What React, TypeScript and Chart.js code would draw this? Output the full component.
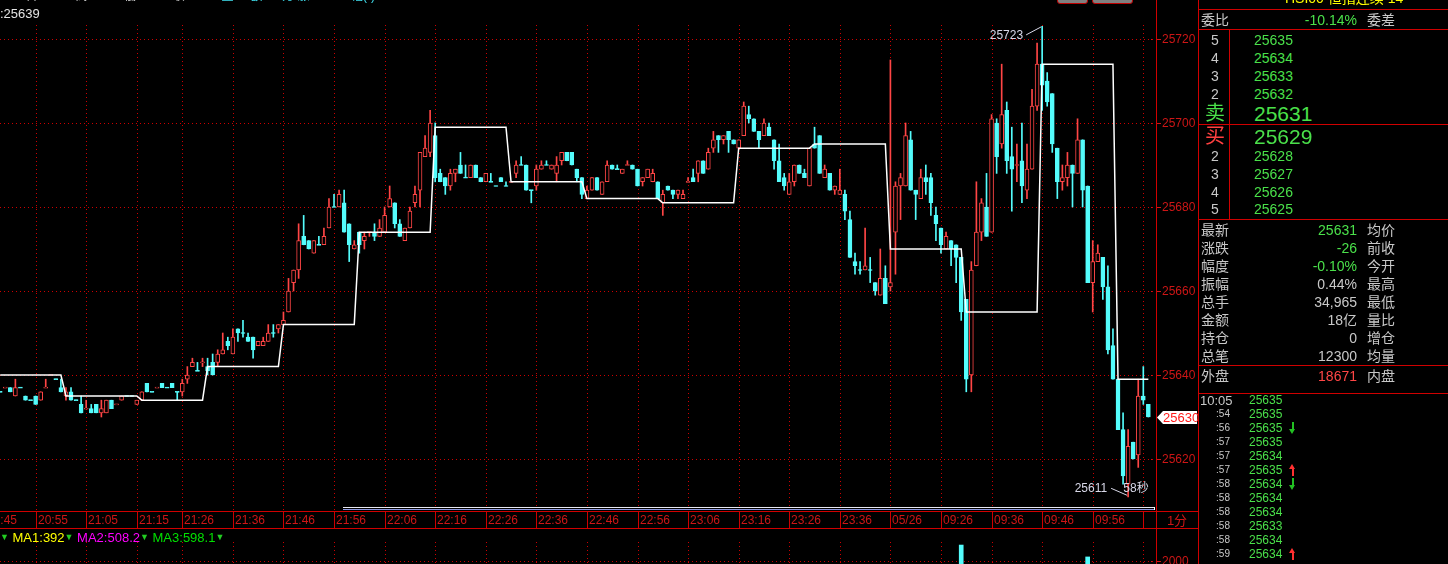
import React, { useEffect, useRef } from 'react';
import { Chart, registerables } from 'chart.js';
Chart.register(...registerables);

// ---------- data ----------
const opens = [25636,25637,25637,25635,25637,25635,25634,25635,25634,25637,
25640,25639,25637,25635,25636,25634,25633,25632,25632,25633,
25631,25631,25634,25633,25634,25635,25635,25633,25634,25638,
25636,25637,25638,25637,25638,25636,25636,25639,25642,25641,
25643,25642,25643,25643,25645,25648,25645,25651,25650,25649,
25649,25647,25647,25648,25650,25651,25652,25655,25662,25665,
25673,25672,25669,25671,25671,25675,25680,25680,25681,25676,
25670,25674,25672,25674,25674,25673,25674,25680,25681,25676,
25672,25675,25681,25684,25692,25693,25697,25688,25687,25685,
25688,25690,25687,25687,25690,25687,25686,25686,25685,25687,
25685,25686,25688,25690,25690,25684,25685,25689,25690,25689,
25688,25691,25693,25693,25689,25687,25682,25684,25687,25683,
25686,25690,25689,25688,25690,25690,25689,25686,25687,25686,
25686,25681,25685,25684,25683,25682,25686,25687,25688,25691,
25689,25694,25697,25696,25698,25696,25694,25697,25702,25701,
25698,25697,25699,25696,25691,25687,25683,25686,25690,25688,
25685,25695,25697,25687,25688,25684,25683,25683,25677,25667,
25665,25665,25665,25662,25659,25663,25661,25674,25685,25685,
25696,25684,25682,25687,25687,25678,25675,25670,25672,25671,
25668,25658,25640,25666,25674,25680,25674,25700,25695,25703,
25692,25690,25691,25684,25689,25704,25714,25710,25707,25694,
25686,25687,25690,25688,25696,25685,25662,25667,25668,25661,
25647,25639,25627,25614,25624,25621,25635,25633];

const highs = [25636,25637,25637,25639,25637,25635,25634,25635,25636,25639,
25640,25639,25639,25637,25637,25634,25635,25634,25633,25633,
25634,25634,25634,25633,25635,25635,25635,25634,25636,25638,
25636,25637,25638,25637,25638,25636,25639,25642,25644,25643,
25644,25644,25645,25646,25650,25649,25651,25651,25653,25650,
25649,25648,25649,25652,25652,25652,25655,25663,25665,25676,
25678,25672,25672,25673,25675,25682,25683,25684,25684,25676,
25672,25674,25674,25674,25676,25677,25680,25685,25681,25677,
25675,25680,25685,25693,25697,25703,25700,25689,25687,25689,
25689,25693,25690,25690,25690,25687,25688,25688,25685,25687,
25686,25686,25691,25692,25690,25684,25690,25691,25691,25690,
25692,25693,25693,25693,25689,25687,25685,25687,25687,25686,
25691,25690,25690,25689,25691,25690,25689,25687,25689,25689,
25686,25684,25685,25684,25684,25684,25687,25689,25691,25691,
25694,25698,25697,25697,25698,25696,25696,25705,25704,25701,
25698,25701,25700,25696,25695,25688,25688,25690,25690,25689,
25694,25699,25697,25690,25688,25685,25689,25684,25679,25669,
25667,25675,25668,25662,25670,25666,25715,25686,25688,25700,
25698,25684,25689,25690,25688,25680,25675,25674,25672,25671,
25668,25658,25667,25686,25682,25688,25702,25701,25714,25705,
25699,25695,25700,25695,25708,25719,25723,25712,25707,25694,
25690,25693,25690,25701,25696,25685,25672,25671,25668,25666,
25651,25639,25631,25627,25624,25639,25642,25633];

const lows = [25636,25637,25636,25635,25637,25634,25634,25633,25634,25637,
25640,25639,25636,25634,25634,25634,25631,25632,25631,25631,
25630,25631,25632,25633,25634,25635,25635,25633,25634,25636,
25636,25637,25637,25637,25637,25634,25635,25638,25642,25641,
25642,25640,25640,25642,25645,25646,25645,25648,25649,25648,
25644,25647,25647,25648,25649,25650,25652,25655,25660,25663,
25671,25670,25669,25671,25671,25675,25680,25680,25674,25667,
25670,25669,25670,25673,25672,25673,25674,25680,25675,25673,
25672,25675,25680,25680,25692,25692,25686,25686,25683,25684,
25686,25688,25687,25687,25687,25686,25686,25686,25685,25686,
25685,25686,25687,25690,25684,25681,25684,25689,25690,25689,
25686,25690,25691,25690,25686,25682,25682,25684,25684,25683,
25686,25689,25689,25688,25690,25689,25685,25685,25687,25686,
25682,25678,25684,25682,25682,25682,25686,25686,25686,25688,
25689,25693,25693,25695,25693,25695,25694,25697,25700,25698,
25694,25697,25697,25689,25686,25684,25683,25685,25688,25687,
25685,25694,25688,25687,25684,25683,25683,25677,25668,25664,
25664,25665,25662,25659,25659,25657,25660,25664,25677,25685,
25684,25677,25682,25683,25678,25672,25669,25670,25666,25662,
25653,25636,25636,25666,25672,25673,25674,25688,25694,25688,
25679,25686,25681,25682,25689,25703,25703,25704,25693,25682,
25684,25685,25680,25688,25680,25662,25655,25667,25658,25645,
25639,25627,25614,25611,25620,25618,25633,25630];

const closes = [25636,25637,25636,25637,25637,25634,25634,25633,25636,25637,
25640,25639,25636,25636,25634,25634,25631,25632,25631,25631,
25632,25634,25632,25633,25635,25635,25635,25634,25636,25636,
25636,25637,25637,25637,25637,25636,25638,25640,25643,25641,
25643,25641,25640,25645,25646,25647,25649,25650,25650,25648,
25646,25648,25648,25650,25650,25652,25653,25660,25665,25672,
25671,25670,25672,25671,25673,25680,25680,25683,25674,25671,
25671,25671,25673,25674,25673,25675,25678,25682,25676,25673,
25675,25679,25683,25693,25694,25700,25687,25686,25685,25688,
25689,25688,25687,25690,25687,25686,25688,25686,25685,25686,
25685,25686,25690,25690,25684,25684,25689,25690,25690,25690,
25690,25693,25691,25690,25687,25683,25684,25687,25684,25686,
25690,25689,25689,25689,25690,25689,25685,25687,25689,25688,
25682,25683,25684,25683,25684,25683,25686,25686,25691,25688,
25693,25696,25696,25697,25696,25695,25696,25704,25701,25698,
25696,25700,25697,25691,25686,25685,25686,25690,25688,25687,
25694,25694,25688,25689,25684,25685,25684,25679,25668,25666,
25665,25666,25665,25660,25663,25657,25662,25685,25687,25697,
25684,25683,25687,25686,25681,25676,25671,25673,25670,25668,
25655,25639,25665,25674,25681,25673,25701,25692,25702,25691,
25689,25690,25685,25689,25704,25714,25709,25705,25695,25686,
25687,25690,25688,25696,25684,25662,25667,25669,25661,25646,
25639,25627,25616,25623,25620,25635,25634,25630];

// white step line: start index of each level and its value
const stepStarts = [0, 13, 28, 41, 56, 71, 86, 101, 116, 131, 146, 161, 176, 191, 206, 221];
const stepValues = [25640, 25635, 25634, 25642, 25652, 25674, 25699, 25686, 25682, 25681, 25694, 25695, 25670, 25655, 25714, 25639];

const priceTicks = [25620, 25640, 25660, 25680, 25700, 25720];
const timeIdx = [-3, 7, 17, 27, 36, 46, 56, 66, 76, 86, 96, 106, 116, 126, 136, 146, 156, 166, 176, 186, 196, 206, 216, 226];
const timeLabels = ['20:45', '20:55', '21:05', '21:15', '21:26', '21:36', '21:46', '21:56', '22:06', '22:16', '22:26', '22:36', '22:46', '22:56', '23:06', '23:16', '23:26', '23:36', '05/26', '09:26', '09:36', '09:46', '09:56', ''];

const volIdx = [190, 215];
const volValues = [3100, 2280];
const volTick = 2000;

const askLevels = ['5', '4', '3', '2'];
const askPrices = ['25635', '25634', '25633', '25632'];
const bestAsk = '25631';
const bestBid = '25629';
const bidLevels = ['2', '3', '4', '5'];
const bidPrices = ['25628', '25627', '25626', '25625'];

const statLabels = ['最新', '涨跌', '幅度', '振幅', '总手', '金额', '持仓', '总笔'];
const statValues = ['25631', '-26', '-0.10%', '0.44%', '34,965', '18亿', '0', '12300'];
const statRight = ['均价', '前收', '今开', '最高', '最低', '量比', '增仓', '均量'];
const statGreen = [true, true, true, false, false, false, false, false];

const tickTimes = ['10:05', ':54', ':56', ':57', ':57', ':57', ':58', ':58', ':58', ':58', ':58', ':59'];
const tickPrices = ['25635', '25635', '25635', '25635', '25634', '25635', '25634', '25634', '25634', '25633', '25634', '25634'];
const tickArrows = ['', '', 'down', '', '', 'up', 'down', '', '', '', '', 'up'];

// ---------- style ----------
const W = 1448;
const FONT = '"Liberation Sans", "Noto Sans CJK SC", sans-serif';
const UP = '#ff4545';
const DOWN = '#54fcfc';
const GRID = 'rgb(205,0,0)';
const AX_RED = 'rgb(205,22,22)';
const LINE_RED = '#d00000';
const GREEN = '#4ae04a';
const GRAY = '#c8c8c8';
const X_MIN = -0.04, X_MAX = 228.51;
const Y_MIN = 25607.62, Y_MAX = 25723.33;
const V_MIN = 1793, V_MAX = 4276;

function candleColors(): string[] {
  return closes.map((c, i) => {
    const o = opens[i];
    if (c > o) return UP;
    if (c < o) return DOWN;
    const prev = i > 0 ? closes[i - 1] : c;
    return c > prev ? UP : DOWN;
  });
}

function T(props: { x: number; y: number; t: string; c: string; s?: number; a?: 'left' | 'right' | 'center' }) {
  const s = props.s ?? 14;
  const a = props.a ?? 'left';
  const st: React.CSSProperties = {
    position: 'absolute', top: props.y - s / 2, height: s, lineHeight: s + 'px',
    fontSize: s, color: props.c, whiteSpace: 'nowrap',
  };
  if (a === 'left') st.left = props.x;
  else if (a === 'right') st.right = W - props.x;
  else { st.left = props.x; st.transform = 'translateX(-50%)'; }
  return <div style={st}>{props.t}</div>;
}

function Line(props: { x: number; y: number; w: number; h: number; c?: string }) {
  return <div style={{ position: 'absolute', left: props.x, top: props.y, width: props.w, height: props.h, background: props.c ?? LINE_RED }} />;
}

function Arrow(props: { x: number; y: number; up: boolean }) {
  const c = props.up ? '#ff3030' : '#22c022';
  const head: React.CSSProperties = props.up
    ? { position: 'absolute', left: -3, top: 0, width: 0, height: 0, borderLeft: '3.5px solid transparent', borderRight: '3.5px solid transparent', borderBottom: '5px solid ' + c }
    : { position: 'absolute', left: -3, bottom: 0, width: 0, height: 0, borderLeft: '3.5px solid transparent', borderRight: '3.5px solid transparent', borderTop: '5px solid ' + c };
  return (
    <div style={{ position: 'absolute', left: props.x, top: props.y - 6, width: 1, height: 12 }}>
      <div style={{ position: 'absolute', left: 0, top: props.up ? 3 : 0, width: 1.5, height: 9, background: c }} />
      <div style={head} />
    </div>
  );
}

export default function App() {
  const mainRef = useRef<HTMLCanvasElement>(null);
  const volRef = useRef<HTMLCanvasElement>(null);

  useEffect(() => {
    const colors = candleColors();
    const bodies = opens.map((o, i) => {
      let lo = Math.min(o, closes[i]);
      let hi = Math.max(o, closes[i]);
      if (hi - lo < 0.24) { lo = closes[i] - 0.12; hi = closes[i] + 0.12; }
      return { x: i, y: [lo, hi] };
    });
    const wicks = highs.map((h, i) => ({ x: i, y: [lows[i], h] }));
    const stepLine = closes.map((_, i) => {
      let k = 0;
      for (let j = 0; j < stepStarts.length; j++) if (stepStarts[j] <= i) k = j;
      return { x: i, y: stepValues[k] };
    });

    const mainPlugin = {
      id: 'mainDeco',
      beforeDatasetsDraw(chart: any) {
        const { ctx, chartArea: ca, scales } = chart;
        const xs = scales.x, ys = scales.y;
        ctx.save();
        ctx.strokeStyle = GRID; ctx.lineWidth = 1; ctx.setLineDash([1, 3]);
        priceTicks.forEach((p) => {
          const y = Math.round(ys.getPixelForValue(p)) + 0.5;
          ctx.beginPath(); ctx.moveTo(ca.left, y); ctx.lineTo(ca.right, y); ctx.stroke();
        });
        timeIdx.forEach((i) => {
          const x = Math.round(xs.getPixelForValue(i)) + 0.5;
          if (x < ca.left || x > ca.right) return;
          ctx.beginPath(); ctx.moveTo(x, ca.top); ctx.lineTo(x, ca.bottom); ctx.stroke();
        });
        ctx.restore();
      },
      afterDatasetsDraw(chart: any) {
        const { ctx, chartArea: ca, scales } = chart;
        const xs = scales.x, ys = scales.y;
        ctx.save();
        // scroll bar
        ctx.lineWidth = 1;
        ctx.strokeStyle = '#e8e8f0';
        ctx.beginPath(); ctx.moveTo(343, 507.5); ctx.lineTo(1155, 507.5); ctx.stroke();
        ctx.strokeStyle = '#8c98e0';
        ctx.beginPath(); ctx.moveTo(343, 509.5); ctx.lineTo(1155, 509.5); ctx.stroke();
        ctx.fillStyle = '#ffffff'; ctx.fillRect(1154, 507, 1, 3);
        // time axis ticks and labels
        ctx.strokeStyle = GRID;
        ctx.font = '12px "Liberation Sans"';
        ctx.textBaseline = 'middle';
        ctx.textAlign = 'left';
        timeIdx.forEach((i, k) => {
          const x = Math.round(xs.getPixelForValue(i)) + 0.5;
          if (x >= ca.left && x <= ca.right) {
            ctx.beginPath(); ctx.moveTo(x, ca.bottom); ctx.lineTo(x, ca.bottom + 17); ctx.stroke();
          }
          ctx.fillStyle = AX_RED;
          ctx.fillText(timeLabels[k], x + 1.5, ca.bottom + 9.5);
        });
        // price labels
        priceTicks.forEach((p) => {
          const y = Math.round(ys.getPixelForValue(p)) + 0.5;
          ctx.fillStyle = AX_RED;
          ctx.fillRect(1151, y - 0.5, 1, 1);
          ctx.fillRect(1157, y - 0.5, 4, 1);
          ctx.fillText(String(p), 1162, y + 0.5);
        });
        // last price tag
        const last = closes.length - 1;
        const ty = Math.round(ys.getPixelForValue(closes[last])) + 0.5;
        ctx.fillStyle = '#ffffff';
        ctx.beginPath();
        ctx.moveTo(1157, ty); ctx.lineTo(1163, ty - 6.5); ctx.lineTo(1197, ty - 6.5);
        ctx.lineTo(1197, ty + 6.5); ctx.lineTo(1163, ty + 6.5); ctx.closePath(); ctx.fill();
        ctx.fillStyle = '#ff1a1a';
        ctx.font = '13px "Liberation Sans"';
        ctx.fillText(String(closes[last]), 1163, ty + 0.5);
        // high / low annotations
        let hi = 0, lo = 0;
        highs.forEach((h, i) => { if (h > highs[hi]) hi = i; });
        lows.forEach((l, i) => { if (l < lows[lo]) lo = i; });
        ctx.strokeStyle = '#d8d8e8'; ctx.fillStyle = '#d8d8e8'; ctx.lineWidth = 1;
        ctx.font = '12px "Liberation Sans"';
        const hx = xs.getPixelForValue(hi), hy = ys.getPixelForValue(highs[hi]);
        ctx.beginPath(); ctx.moveTo(hx - 16, hy + 8.5); ctx.lineTo(hx - 1, hy + 0.5); ctx.stroke();
        ctx.textAlign = 'right';
        ctx.fillText(String(highs[hi]), hx - 19, hy + 9);
        const lx = xs.getPixelForValue(lo), ly = ys.getPixelForValue(lows[lo]);
        ctx.beginPath(); ctx.moveTo(lx - 17, ly - 8.5); ctx.lineTo(lx - 1, ly - 1.5); ctx.stroke();
        ctx.fillText(String(lows[lo]), lx - 21, ly - 8.5);
        ctx.textAlign = 'left';
        ctx.font = '12px "Liberation Sans", "Noto Sans CJK SC"';
        ctx.fillText('58秒', xs.getPixelForValue(last) - 25, ly - 8.5);
        ctx.restore();
      },
    };

    const main = new Chart(mainRef.current as HTMLCanvasElement, {
      type: 'bar',
      data: {
        datasets: [
          {
            type: 'line', data: stepLine as any, borderColor: '#ffffff', borderWidth: 1.5,
            pointRadius: 0, tension: 0, order: 0, fill: false,
          } as any,
          {
            type: 'bar', data: bodies as any, backgroundColor: colors.map((c) => (c === UP ? '#000000' : DOWN)),
            borderColor: colors, borderWidth: 1, borderSkipped: false, barThickness: 4, grouped: false, order: 1,
          } as any,
          {
            type: 'bar', data: wicks as any, backgroundColor: colors, borderWidth: 0,
            barThickness: 1, grouped: false, order: 2,
          } as any,
        ],
      },
      options: {
        animation: false, responsive: false, maintainAspectRatio: false, devicePixelRatio: 1,
        events: [],
        layout: { padding: { left: 0, right: 42, top: 25, bottom: 17 } },
        plugins: { legend: { display: false }, tooltip: { enabled: false } },
        scales: {
          x: { type: 'linear', display: false, min: X_MIN, max: X_MAX, offset: false },
          y: { type: 'linear', display: false, min: Y_MIN, max: Y_MAX },
        },
      } as any,
      plugins: [mainPlugin as any],
    });

    const volPlugin = {
      id: 'volDeco',
      beforeDatasetsDraw(chart: any) {
        const { ctx, chartArea: ca, scales } = chart;
        const xs = scales.x, ys = scales.y;
        ctx.save();
        ctx.strokeStyle = GRID; ctx.lineWidth = 1; ctx.setLineDash([1, 3]);
        timeIdx.forEach((i) => {
          const x = Math.round(xs.getPixelForValue(i)) + 0.5;
          if (x < ca.left || x > ca.right) return;
          ctx.beginPath(); ctx.moveTo(x, ca.top + 14); ctx.lineTo(x, ca.bottom); ctx.stroke();
        });
        const y = Math.round(ys.getPixelForValue(volTick)) + 0.5;
        ctx.beginPath(); ctx.moveTo(ca.left, y); ctx.lineTo(ca.right, y); ctx.stroke();
        ctx.setLineDash([]);
        ctx.fillStyle = AX_RED;
        ctx.fillRect(1151, y - 0.5, 1, 1);
        ctx.fillRect(1157, y - 0.5, 4, 1);
        ctx.font = '12px "Liberation Sans"';
        ctx.textBaseline = 'middle';
        ctx.fillText(String(volTick), 1162, y + 0.5);
        ctx.restore();
      },
    };

    const vol = new Chart(volRef.current as HTMLCanvasElement, {
      type: 'bar',
      data: {
        datasets: [{
          data: volIdx.map((i, k) => ({ x: i, y: volValues[k] })) as any,
          backgroundColor: volIdx.map((i) => (closes[i] >= opens[i] ? UP : DOWN)),
          barThickness: 4, borderWidth: 0,
        }],
      },
      options: {
        animation: false, responsive: false, maintainAspectRatio: false, devicePixelRatio: 1,
        events: [],
        layout: { padding: { left: 0, right: 42, top: 0, bottom: 0 } },
        plugins: { legend: { display: false }, tooltip: { enabled: false } },
        scales: {
          x: { type: 'linear', display: false, min: X_MIN, max: X_MAX, offset: false },
          y: { type: 'linear', display: false, min: V_MIN, max: V_MAX },
        },
      } as any,
      plugins: [volPlugin as any],
    });

    return () => { main.destroy(); vol.destroy(); };
  }, []);

  const mk = (k: string) => <span key={k} style={{ color: '#22cc22', fontSize: 9, verticalAlign: 'top' }}>▼</span>;

  return (
    <div style={{ position: 'fixed', left: 0, top: 0, width: W, height: 564, background: '#000', overflow: 'hidden', fontFamily: FONT }}>
      <canvas ref={mainRef} width={1198} height={528} style={{ position: 'absolute', left: 0, top: 0, width: 1198, height: 528 }} />
      <canvas ref={volRef} width={1198} height={36} style={{ position: 'absolute', left: 0, top: 528, width: 1198, height: 36 }} />

      {/* top-left info (partly cut) */}
      <div style={{ position: 'absolute', left: 0, top: -10, height: 13, lineHeight: '13px', fontSize: 12, whiteSpace: 'nowrap' }}>
        <span style={{ color: '#d0d0d0' }}>0.07 开25639 高25639 低25630 收25630 </span>
        <span style={{ color: '#40e0f0' }}>量24 额128万 涨-0.01% 幅(-)0.02%</span>
      </div>
      <T x={0} y={13} t=":25639" c="#e4e4e4" s={13} />

      {/* small buttons at top */}
      <div style={{ position: 'absolute', left: 1057, top: -11, width: 29, height: 13, background: '#808080', border: '1px solid #c00000', borderRadius: 3 }} />
      <div style={{ position: 'absolute', left: 1092, top: -11, width: 39, height: 13, background: '#808080', border: '1px solid #c00000', borderRadius: 3 }} />

      {/* frame lines */}
      <Line x={1156} y={0} w={1} h={564} />
      <Line x={1198} y={0} w={1} h={564} />
      <Line x={0} y={511} w={1198} h={1} />
      <Line x={0} y={528} w={1198} h={1} />
      <T x={1177} y={520} t="1分" c={AX_RED} s={13} a="center" />

      {/* MA legend */}
      <div style={{ position: 'absolute', left: 0, top: 531, height: 13, lineHeight: '13px', fontSize: 13, whiteSpace: 'nowrap' }}>
        {mk('a')}<span style={{ color: '#ffff00' }}> MA1:392</span>{mk('b')}
        <span style={{ color: '#ff00ff' }}> MA2:508.2</span>{mk('c')}
        <span style={{ color: '#00e000' }}> MA3:598.1</span>{mk('d')}
      </div>

      {/* right panel */}
      <T x={1285} y={-2} t="HSI00  恒指连续  14" c="#ffff00" s={14} />
      <Line x={1198} y={9} w={250} h={1} />
      <T x={1201} y={20} t="委比" c={GRAY} />
      <T x={1357} y={20} t="-10.14%" c={GREEN} a="right" />
      <T x={1367} y={20} t="委差" c={GRAY} />
      <Line x={1198} y={29} w={250} h={1} />
      <Line x={1229} y={29} w={1} h={190} />
      {askLevels.map((l, k) => <T key={'al' + k} x={1215} y={40 + k * 18} t={l} c={GRAY} a="center" />)}
      {askPrices.map((p, k) => <T key={'ap' + k} x={1254} y={40 + k * 18} t={p} c={GREEN} />)}
      <T x={1215} y={113} t="卖" c={GREEN} s={20} a="center" />
      <T x={1254} y={113} t={bestAsk} c={GREEN} s={21} />
      <Line x={1198} y={124} w={250} h={1} />
      <T x={1215} y={136} t="买" c="#ff4040" s={20} a="center" />
      <T x={1254} y={136} t={bestBid} c={GREEN} s={21} />
      {bidLevels.map((l, k) => <T key={'bl' + k} x={1215} y={156 + k * 17.8} t={l} c={GRAY} a="center" />)}
      {bidPrices.map((p, k) => <T key={'bp' + k} x={1254} y={156 + k * 17.8} t={p} c={GREEN} />)}
      <Line x={1198} y={219} w={250} h={1} />
      {statLabels.map((l, k) => <T key={'sl' + k} x={1201} y={230 + k * 18} t={l} c={GRAY} />)}
      {statValues.map((v, k) => <T key={'sv' + k} x={1357} y={230 + k * 18} t={v} c={statGreen[k] ? GREEN : GRAY} a="right" />)}
      {statRight.map((l, k) => <T key={'sr' + k} x={1367} y={230 + k * 18} t={l} c={GRAY} />)}
      <Line x={1198} y={365} w={250} h={1} />
      <T x={1201} y={376} t="外盘" c={GRAY} />
      <T x={1357} y={376} t="18671" c="#ff4646" a="right" />
      <T x={1367} y={376} t="内盘" c={GRAY} />
      <Line x={1198} y={393} w={250} h={1} />
      {tickTimes.map((t, k) => k === 0
        ? <T key={'tt' + k} x={1200} y={400} t={t} c={GRAY} s={13} />
        : <T key={'tt' + k} x={1230} y={400 + k * 14} t={t} c={GRAY} s={10} a="right" />)}
      {tickPrices.map((p, k) => <T key={'tp' + k} x={1249} y={400 + k * 14} t={p} c={GREEN} s={12} />)}
      {tickArrows.map((a, k) => a ? <Arrow key={'ta' + k} x={1292} y={400 + k * 14} up={a === 'up'} /> : null)}
    </div>
  );
}
